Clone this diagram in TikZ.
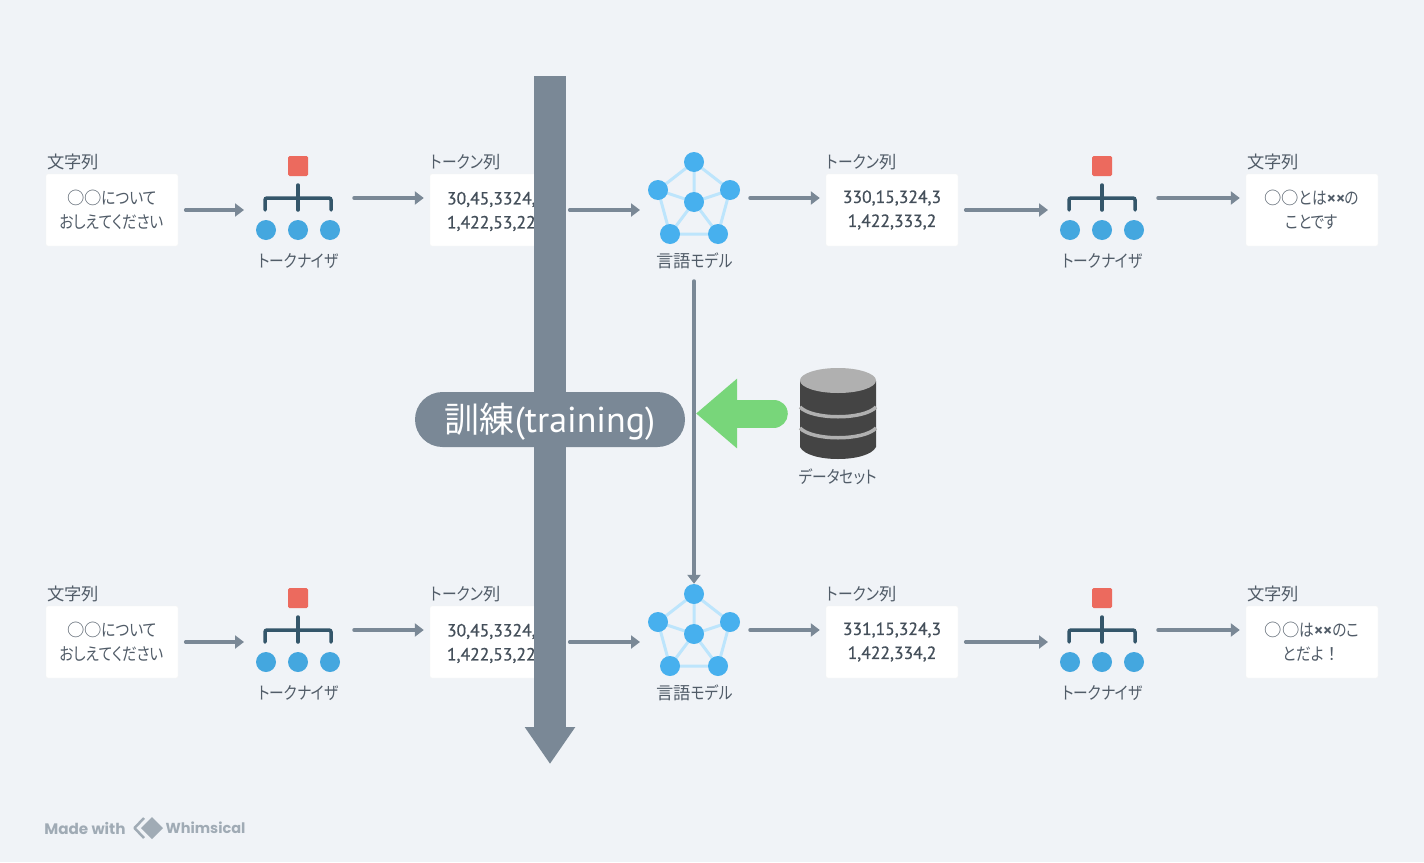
\documentclass[tikz,border=0pt]{standalone}
\usepackage{fontspec}
\usetikzlibrary{arrows.meta,positioning,shapes.misc}
\setmainfont{Noto Sans CJK JP}
\newfontfamily\kn{Noto Sans CJK JP}[RawFeature=+palt,FakeStretch=0.85]
\newfontfamily\din{PT Sans}
\newfontfamily\dinb{PT Sans}[FakeBold=0.7]
\newfontfamily\wm{Poppins}
\definecolor{pagebg}{HTML}{F0F3F7}
\definecolor{flowgrey}{HTML}{7A8896}
\definecolor{inkgrey}{HTML}{515C68}
\definecolor{numgrey}{HTML}{444F5A}
\definecolor{tokred}{HTML}{EC6A5E}
\definecolor{tokblue}{HTML}{44A7DF}
\definecolor{tokline}{HTML}{34566A}
\definecolor{modelblue}{HTML}{47B0EE}
\definecolor{modeledge}{HTML}{BDE5FC}
\definecolor{setgreen}{HTML}{78D67A}
\definecolor{dbdark}{HTML}{444444}
\definecolor{dbgrey}{HTML}{B0B0B0}
\definecolor{wmgrey}{HTML}{A0ABB5}
\tikzset{
  textbox/.style={fill=white,draw=black!4,rounded corners=2pt,minimum width=132pt,minimum height=72pt,inner sep=0pt,align=center,text=inkgrey,font=\fontsize{17.3}{24}\selectfont},
  numbox/.style={textbox,text=numgrey,font=\dinb\fontsize{17.6}{24}\selectfont,execute at begin node={\rule{0pt}{15.5pt}}},
  cutbox/.style={numbox,align=left,text width=98pt,inner xsep=17pt},
  tlabel/.style={text=inkgrey,inner sep=1pt,font=\fontsize{17.3}{20}\selectfont},
  caplabel/.style={tlabel,anchor=south west,yshift=3pt},
  flow/.style={draw=flowgrey,line width=3.5pt,line cap=round,-{Triangle[length=9pt,width=13pt]}},
  flowout/.style={flow,shorten >=6pt},
  flowin/.style={flow,shorten <=7.5pt},
  dot/.style={circle,inner sep=0pt,minimum size=20pt},
  tokenizer/.pic={
    \node[fill=tokred,rounded corners=1.5pt,minimum size=20pt,inner sep=0pt] (-top) at (0,-32) {};
    \draw[tokline,line width=3.5pt,line cap=round,rounded corners=2pt] (-33,12) -- (-33,0) -- (33,0) -- (33,12);
    \draw[tokline,line width=3.5pt,line cap=round] (0,-13) -- (0,12);
    \foreach \dotx/\dotname in {-32/a,0/b,32/c}
      \node[dot,fill=tokblue] (-\dotname) at (\dotx,32) {};
    \node[tlabel] (-name) at (0.5,63) {\kn トークナイザ};
    \coordinate (-in) at (-54,12);
    \coordinate (-out) at (56,0);
  },
  langmodel/.pic={
    \node[dot] (-t) at (0,-40) {};
    \node[dot] (-l) at (-36,-12) {};
    \node[dot] (-r) at (36,-12) {};
    \node[dot] (-c) at (0,0) {};
    \node[dot] (-p) at (-24,32) {};
    \node[dot] (-q) at (24,32) {};
    \draw[modeledge,line width=3pt] (-t.center) -- (-l.center) -- (-p.center) -- (-q.center) -- (-r.center) -- (-t.center) -- (-c.center)
      (-l.center) -- (-c.center) -- (-r.center) (-p.center) -- (-c.center) -- (-q.center);
    \foreach \dotname in {t,l,r,c,p,q}
      \node[dot,fill=modelblue] at (-\dotname) {};
    \node[tlabel] (-name) at (0.5,59) {言語{\kn モデル}};
    \coordinate (-in) at (-54,8);
    \coordinate (-out) at (56,-4);
    \coordinate (-bot) at (0,79);
  }
}
\newcommand{\tms}{{\din\bfseries ××}}
\begin{document}
\begin{tikzpicture}[x=1pt,y=-1pt]
  \fill[pagebg] (0,0) rectangle (1424,862);
  \useasboundingbox (0,0) rectangle (1424,862);

  % upper row
  \node[textbox] (box1) at (112,210) {○○{\kn について}\\{\kn おしえてください}};
  \node[cutbox] (box2) at (496,210) {30,45,3324,\\1,422,53,22};
  \node[numbox] (box3) at (892,210) {330,15,324,3\\1,422,333,2};
  \node[textbox] (box4) at (1312,210) {○○{\kn とは}\tms{\kn の}\\{\kn ことです}};
  \node[caplabel] (cap1) at (box1.north west) {文字列};
  \node[caplabel] (cap2) at (box2.north west) {{\kn トークン}列};
  \node[caplabel] (cap3) at (box3.north west) {{\kn トークン}列};
  \node[caplabel] (cap4) at (box4.north west) {文字列};
  \pic (tok1) at (298,198) {tokenizer};
  \pic (tok2) at (1102,198) {tokenizer};
  \pic (mod1) at (694,202) {langmodel};

  % lower row
  \node[textbox] (box5) at (112,642) {○○{\kn について}\\{\kn おしえてください}};
  \node[cutbox] (box6) at (496,642) {30,45,3324,\\1,422,53,22};
  \node[numbox] (box7) at (892,642) {331,15,324,3\\1,422,334,2};
  \node[textbox] (box8) at (1312,642) {○○{\kn は}\tms{\kn のこ}\\{\kn とだよ}！};
  \node[caplabel] (cap5) at (box5.north west) {文字列};
  \node[caplabel] (cap6) at (box6.north west) {{\kn トークン}列};
  \node[caplabel] (cap7) at (box7.north west) {{\kn トークン}列};
  \node[caplabel] (cap8) at (box8.north west) {文字列};
  \pic (tok3) at (298,630) {tokenizer};
  \pic (tok4) at (1102,630) {tokenizer};
  \pic (mod2) at (694,634) {langmodel};

  % connectors
  \draw[flowin] (box1.east) -- (tok1-in);
  \draw[flowout] (tok1-out) -- (box2.west |- tok1-out);
  \draw[flowin] (box2.east) -- (mod1-in);
  \draw[flowout] (mod1-out) -- (box3.west |- mod1-out);
  \draw[flowin] (box3.east) -- (tok2-in);
  \draw[flowout] (tok2-out) -- (box4.west |- tok2-out);
  \draw[flowin] (box5.east) -- (tok3-in);
  \draw[flowout] (tok3-out) -- (box6.west |- tok3-out);
  \draw[flowin] (box6.east) -- (mod2-in);
  \draw[flowout] (mod2-out) -- (box7.west |- mod2-out);
  \draw[flowin] (box7.east) -- (tok4-in);
  \draw[flowout] (tok4-out) -- (box8.west |- tok4-out);
  \draw[flow] (mod1-bot) -- (mod2-t.north);

  % dataset
  \node[minimum width=76pt,minimum height=91pt,inner sep=0pt] (dset) at (838,413.5) {};
  \fill[dbdark] (800,381) -- (800,447) .. controls (808,463) and (868,463) .. (876,447) -- (876,381) -- cycle;
  \fill[dbgrey] (838,380.5) ellipse[x radius=38,y radius=12.5];
  \draw[dbgrey,line width=3.5pt] (800,407) .. controls (812,420) and (864,420) .. (876,407);
  \draw[dbgrey,line width=3.5pt] (800,428) .. controls (812,441) and (864,441) .. (876,428);
  \node[tlabel] (dname) at (838,477) {\kn データセット};
  \draw[setgreen,line width=28pt,line cap=round,shorten <=26pt,shorten >=2pt,-{Triangle[length=41pt,width=67pt]}] (dset.west) -- (mod1-bot |- dset.west);

  % training
  \draw[flowgrey,line width=32pt,-{Triangle[length=37pt,width=48pt]}] (550,76) -- (550,764);
  \node[rounded rectangle,fill=flowgrey,text=white,minimum width=270pt,minimum height=55pt,inner sep=0pt,text height=28pt,text depth=2pt,font=\fontsize{35}{38}\selectfont] (train) at (550,419.5) {訓練{\din\fontsize{36}{38}\selectfont (training)}};

  % footer
  \node[text=wmgrey,inner sep=0pt,font=\wm\bfseries\fontsize{15.2}{16}\selectfont] (made) at (85,828) {Made with};
  \node[text=wmgrey,inner sep=0pt,font=\wm\bfseries\fontsize{14.5}{16}\selectfont] (whim) at (205.5,828) {Whimsical};
  \draw[wmgrey,line width=2.5pt,line join=round] (144,818) -- (134.5,828) -- (144,838);
  \fill[wmgrey] (152,817) -- (163,828) -- (152,839) -- (141,828) -- cycle;
\end{tikzpicture}
\end{document}
